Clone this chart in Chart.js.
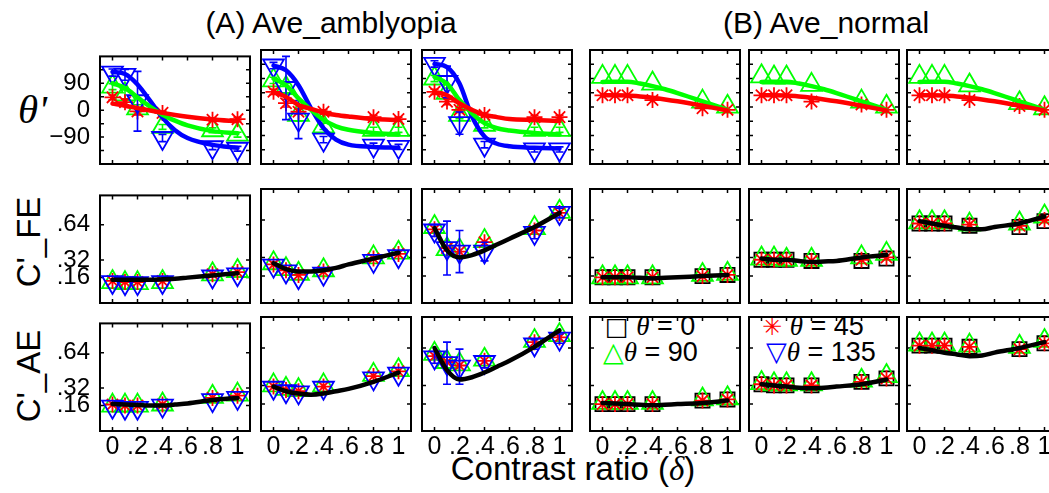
<!DOCTYPE html>
<html>
<head>
<meta charset="utf-8">
<script src="https://cdn.jsdelivr.net/npm/chart.js@4"></script>
<style>
body{margin:0;background:#fff;width:1049px;height:493px;overflow:hidden;position:relative;font-family:"Liberation Sans",Arial,sans-serif}
canvas{position:absolute}
.lbl{position:absolute;white-space:nowrap;color:#000;line-height:1}
.th{font-family:"Liberation Serif",serif;font-style:italic}
</style>
</head>
<body>

<div class="lbl" style="left:331px;top:8px;font-size:30px;transform:translateX(-50%)">(A) Ave_amblyopia</div>
<div class="lbl" style="left:826px;top:8px;font-size:30px;transform:translateX(-50%)">(B) Ave_normal</div>
<div class="lbl" style="left:573px;top:452px;font-size:33px;transform:translateX(-50%)">Contrast ratio (<span class="th">δ</span>)</div>
<div class="lbl th" style="left:18px;top:89px;font-size:41px">θ'</div>
<div class="lbl" style="left:28px;top:242px;font-size:33px;transform:translate(-50%,-50%) rotate(-90deg)">C'_FE</div>
<div class="lbl" style="left:28px;top:376px;font-size:33px;transform:translate(-50%,-50%) rotate(-90deg)">C'_AE</div>

<div class="lbl" style="left:605px;top:313px;font-size:27px"><span style="font-family:'DejaVu Sans';font-size:25px">□</span> <span class="th">θ</span> = 0</div>
<div class="lbl" style="left:603px;top:338px;font-size:27px"><span style="font-family:'DejaVu Sans';font-size:27px;color:#00ff00">△</span><span class="th">θ</span> = 90</div>
<div class="lbl" style="left:762px;top:313px;font-size:27px"><span style="font-family:'DejaVu Sans';font-size:24px;color:#ff0000">✳</span> <span class="th">θ</span> = 45</div>
<div class="lbl" style="left:766px;top:338px;font-size:27px"><span style="font-family:'DejaVu Sans';font-size:27px;color:#0000ff">▽</span><span class="th">θ</span> = 135</div>

<script>
// contrast ratios of the measured points, and where the fitted curves are read
const xData = [0, 0.1, 0.2, 0.4, 0.8, 1];
const xFit = [0, 0.1, 0.2, 0.3, 0.4, 0.5, 0.6, 0.8, 1];
const xTicks = [0, 0.2, 0.4, 0.6, 0.8, 1];
const xTickLabels = ['0', '.2', '.4', '.6', '.8', '1'];
const thetaTicks = [-135, -90, -45, 0, 45, 90, 135];
const thetaTickLabels = ['', '\u221290', '', '0', '', '90', ''];
const cTicks = [0.16, 0.32, 0.64];
const cTickLabels = ['.16', '.32', '.64'];

// theta' (A)
const a1T45 = [43, 27, -4, -9, -32, -30];
const a1T90 = [79, 53, 6, -56, -67, -82];
const a1T135 = [126, 118, 30, -93, -124, -129];
const a1T45Err = [8, 10, 12, 6, 6, 6];
const a1T90Err = [10, 15, 12, 8, 8, 8];
const a1T135Err = [12, 18, 100, 12, 8, 8];
const a1T45Fit = [22, 15, 7, -1, -9, -16, -22, -31, -37];
const a1T90Fit = [90, 74, 43, 12, -15, -35, -51, -70, -77];
const a1T135Fit = [128, 121, 86, 32, -25, -67, -93, -116, -126];

const a2T45 = [48, 12, -15, -15, -32, -38];
const a2T90 = [84, 60, -25, -61, -72, -72];
const a2T135 = [131, 60, -40, -103, -122, -126];
const a2T45Err = [8, 12, 8, 6, 6, 6];
const a2T90Err = [10, 15, 20, 10, 8, 8];
const a2T135Err = [10, 100, 60, 10, 8, 8];
const a2T45Fit = [48, 32, 6, -6, -18, -25, -30, -38, -41];
const a2T90Fit = [90, 69, 27, -9, -41, -61, -72, -82, -87];
const a2T135Fit = [131, 116, 69, -4, -67, -103, -119, -126, -129];

const a3T45 = [48, 17, -9, -25, -32, -32];
const a3T90 = [90, 45, -25, -56, -72, -72];
const a3T135 = [136, 79, -51, -119, -134, -134];
const a3T45Err = [8, 10, 8, 6, 6, 6];
const a3T90Err = [10, 15, 12, 10, 8, 8];
const a3T135Err = [10, 50, 35, 10, 8, 8];
const a3T45Fit = [48, 37, 11, -9, -25, -32, -38, -41, -44];
const a3T90Fit = [95, 74, 22, -20, -51, -67, -74, -82, -87];
const a3T135Fit = [136, 126, 74, -30, -93, -116, -124, -129, -131];

// theta' (B)
const b1T45 = [37, 37, 37, 22, -4, -9];
const b1T90 = [95, 95, 95, 74, 17, 1];
const b1T45Fit = [37, 37, 36, 33, 29, 24, 18, 4, -11];
const b1T90Fit = [79, 80, 80, 74, 66, 56, 44, 18, -9];
const b2T45 = [37, 37, 37, 17, 8, -9];
const b2T90 = [97, 93, 93, 70, 17, 1];
const b2T45Fit = [37, 37, 36, 33, 29, 24, 18, 4, -11];
const b2T90Fit = [79, 80, 80, 74, 66, 56, 44, 18, -9];
const b3T45 = [37, 37, 37, 22, 3, -9];
const b3T90 = [95, 95, 95, 68, 12, -4];
const b3T45Fit = [37, 37, 36, 33, 29, 24, 18, 4, -11];
const b3T90Fit = [79, 80, 80, 74, 66, 56, 44, 18, -9];

// C'_FE
const a1Fe45 = [0.13, 0.12, 0.12, 0.13, 0.19, 0.21];
const a1Fe90 = [0.12, 0.11, 0.11, 0.12, 0.19, 0.22];
const a1Fe135 = [0.12, 0.11, 0.11, 0.12, 0.17, 0.19];
const a1FeFit = [0.14, 0.14, 0.14, 0.14, 0.145, 0.15, 0.16, 0.18, 0.20];
const a2Fe45 = [0.26, 0.21, 0.17, 0.20, 0.31, 0.35];
const a2Fe90 = [0.27, 0.22, 0.18, 0.21, 0.32, 0.36];
const a2Fe135 = [0.25, 0.20, 0.15, 0.18, 0.29, 0.33];
const a2FeFit = [0.27, 0.22, 0.20, 0.20, 0.21, 0.23, 0.26, 0.31, 0.36];
const a3Fe45 = [0.56, 0.40, 0.37, 0.45, 0.55, 0.70];
const a3Fe90 = [0.58, 0.39, 0.38, 0.46, 0.57, 0.71];
const a3Fe135 = [0.55, 0.40, 0.37, 0.37, 0.53, 0.70];
const a3Fe135Err = [0.05, 0.23, 0.18, 0.08, 0.05, 0.04];
const a3FeFit = [0.57, 0.38, 0.32, 0.34, 0.38, 0.43, 0.48, 0.58, 0.70];
const b1Fe0 = [0.15, 0.15, 0.15, 0.15, 0.16, 0.17];
const b1Fe45 = [0.15, 0.15, 0.15, 0.15, 0.16, 0.17];
const b1Fe90 = [0.15, 0.15, 0.15, 0.15, 0.17, 0.18];
const b1FeFit = [0.15, 0.15, 0.15, 0.145, 0.14, 0.145, 0.15, 0.16, 0.17];
const b2Fe0 = [0.30, 0.30, 0.30, 0.29, 0.29, 0.31];
const b2Fe45 = [0.30, 0.30, 0.30, 0.29, 0.30, 0.32];
const b2Fe90 = [0.31, 0.31, 0.30, 0.30, 0.32, 0.35];
const b2FeFit = [0.31, 0.30, 0.30, 0.29, 0.28, 0.285, 0.29, 0.32, 0.34];
const b3Fe0 = [0.61, 0.61, 0.61, 0.59, 0.58, 0.63];
const b3Fe45 = [0.61, 0.61, 0.61, 0.60, 0.59, 0.64];
const b3Fe90 = [0.62, 0.62, 0.62, 0.60, 0.61, 0.67];
const b3FeFit = [0.63, 0.61, 0.59, 0.575, 0.56, 0.56, 0.58, 0.61, 0.67];

// C'_AE
const a1Ae45 = [0.17, 0.16, 0.16, 0.17, 0.23, 0.25];
const a1Ae90 = [0.16, 0.16, 0.16, 0.17, 0.24, 0.26];
const a1Ae135 = [0.15, 0.14, 0.14, 0.16, 0.21, 0.23];
const a1AeFit = [0.175, 0.17, 0.165, 0.16, 0.16, 0.17, 0.18, 0.21, 0.23];
const a2Ae45 = [0.31, 0.28, 0.27, 0.31, 0.40, 0.44];
const a2Ae90 = [0.32, 0.29, 0.28, 0.32, 0.41, 0.45];
const a2Ae135 = [0.30, 0.27, 0.26, 0.30, 0.38, 0.42];
const a2AeFit = [0.31, 0.27, 0.25, 0.24, 0.25, 0.27, 0.29, 0.35, 0.43];
const a3Ae45 = [0.57, 0.52, 0.49, 0.53, 0.69, 0.73];
const a3Ae90 = [0.59, 0.52, 0.50, 0.54, 0.70, 0.75];
const a3Ae135 = [0.56, 0.51, 0.48, 0.52, 0.67, 0.72];
const a3Ae135Err = [0.05, 0.18, 0.15, 0.05, 0.04, 0.04];
const a3AeFit = [0.64, 0.45, 0.37, 0.39, 0.43, 0.48, 0.53, 0.65, 0.79];
const b1Ae0 = [0.16, 0.16, 0.16, 0.16, 0.19, 0.20];
const b1Ae45 = [0.16, 0.16, 0.16, 0.16, 0.19, 0.20];
const b1Ae90 = [0.17, 0.17, 0.17, 0.17, 0.20, 0.21];
const b1AeFit = [0.17, 0.165, 0.16, 0.155, 0.15, 0.155, 0.16, 0.17, 0.19];
const b2Ae0 = [0.33, 0.32, 0.32, 0.32, 0.35, 0.38];
const b2Ae45 = [0.33, 0.32, 0.32, 0.32, 0.35, 0.38];
const b2Ae90 = [0.34, 0.33, 0.33, 0.33, 0.36, 0.40];
const b2AeFit = [0.33, 0.32, 0.31, 0.30, 0.295, 0.30, 0.31, 0.33, 0.37];
const b3Ae0 = [0.66, 0.66, 0.66, 0.65, 0.63, 0.68];
const b3Ae45 = [0.66, 0.66, 0.66, 0.65, 0.63, 0.68];
const b3Ae90 = [0.67, 0.67, 0.67, 0.66, 0.65, 0.70];
const b3AeFit = [0.64, 0.62, 0.60, 0.585, 0.57, 0.575, 0.60, 0.64, 0.69];

const RED = '#ff0000', GREEN = '#00ff00', BLUE = '#0000ff', BLACK = '#000000';
const FONT = '"Liberation Sans", Arial, sans-serif';

// panel boxes (px)
const colLeft = [100, 261, 422, 590, 749, 907];
const rowTop = [50, 189, 317];
const PW = 150, PH = 114;
const L = 70, R = 18, T = 18, B = 40;

const sq = (d, e) => ({d: d, c: BLACK, s: 'rect', r: 10, e: e});
const st = (d, e) => ({d: d, c: RED, s: 'star', r: 8, e: e});
const up = (d, e) => ({d: d, c: GREEN, s: 'triangle', r: 12, e: e});
const dn = (d, e) => ({d: d, c: BLUE, s: 'triangle', r: 12, rot: 180, e: e});

const panels = [
  {row: 0, col: 0, fits: [[a1T45Fit, RED], [a1T90Fit, GREEN], [a1T135Fit, BLUE]],
    pts: [dn(a1T135, a1T135Err), st(a1T45, a1T45Err), up(a1T90, a1T90Err)]},
  {row: 0, col: 1, fits: [[a2T45Fit, RED], [a2T90Fit, GREEN], [a2T135Fit, BLUE]],
    pts: [dn(a2T135, a2T135Err), st(a2T45, a2T45Err), up(a2T90, a2T90Err)]},
  {row: 0, col: 2, fits: [[a3T45Fit, RED], [a3T90Fit, GREEN], [a3T135Fit, BLUE]],
    pts: [dn(a3T135, a3T135Err), st(a3T45, a3T45Err), up(a3T90, a3T90Err)]},
  {row: 0, col: 3, fits: [[b1T45Fit, RED], [b1T90Fit, GREEN]], pts: [st(b1T45), up(b1T90)]},
  {row: 0, col: 4, fits: [[b2T45Fit, RED], [b2T90Fit, GREEN]], pts: [st(b2T45), up(b2T90)]},
  {row: 0, col: 5, fits: [[b3T45Fit, RED], [b3T90Fit, GREEN]], pts: [st(b3T45), up(b3T90)]},

  {row: 1, col: 0, fits: [[a1FeFit, BLACK]], pts: [dn(a1Fe135), st(a1Fe45), up(a1Fe90)]},
  {row: 1, col: 1, fits: [[a2FeFit, BLACK]], pts: [dn(a2Fe135), st(a2Fe45), up(a2Fe90)]},
  {row: 1, col: 2, fits: [[a3FeFit, BLACK]], pts: [dn(a3Fe135, a3Fe135Err), st(a3Fe45), up(a3Fe90)]},
  {row: 1, col: 3, fits: [[b1FeFit, BLACK]], pts: [st(b1Fe45), up(b1Fe90), sq(b1Fe0)]},
  {row: 1, col: 4, fits: [[b2FeFit, BLACK]], pts: [st(b2Fe45), up(b2Fe90), sq(b2Fe0)]},
  {row: 1, col: 5, fits: [[b3FeFit, BLACK]], pts: [st(b3Fe45), up(b3Fe90), sq(b3Fe0)]},

  {row: 2, col: 0, fits: [[a1AeFit, BLACK]], pts: [dn(a1Ae135), st(a1Ae45), up(a1Ae90)]},
  {row: 2, col: 1, fits: [[a2AeFit, BLACK]], pts: [dn(a2Ae135), st(a2Ae45), up(a2Ae90)]},
  {row: 2, col: 2, fits: [[a3AeFit, BLACK]], pts: [dn(a3Ae135, a3Ae135Err), st(a3Ae45), up(a3Ae90)]},
  {row: 2, col: 3, fits: [[b1AeFit, BLACK]], pts: [st(b1Ae45), up(b1Ae90), sq(b1Ae0)]},
  {row: 2, col: 4, fits: [[b2AeFit, BLACK]], pts: [st(b2Ae45), up(b2Ae90), sq(b2Ae0)]},
  {row: 2, col: 5, fits: [[b3AeFit, BLACK]], pts: [st(b3Ae45), up(b3Ae90), sq(b3Ae0)]}
];

// matlab style box with inward ticks on all sides
const boxPlugin = {
  id: 'box',
  beforeDatasetsDraw(chart) {
    const {ctx, chartArea: a, scales} = chart;
    ctx.save();
    ctx.strokeStyle = '#000';
    ctx.lineWidth = 2;
    ctx.strokeRect(a.left, a.top, a.right - a.left, a.bottom - a.top);
    ctx.lineWidth = 1.5;
    ctx.beginPath();
    scales.x.ticks.forEach(t => {
      const px = scales.x.getPixelForValue(t.value);
      ctx.moveTo(px, a.bottom); ctx.lineTo(px, a.bottom - 4);
      ctx.moveTo(px, a.top); ctx.lineTo(px, a.top + 4);
    });
    scales.y.ticks.forEach(t => {
      const py = scales.y.getPixelForValue(t.value);
      ctx.moveTo(a.left, py); ctx.lineTo(a.left + 4, py);
      ctx.moveTo(a.right, py); ctx.lineTo(a.right - 4, py);
    });
    ctx.stroke();
    ctx.restore();
  }
};

// vertical error bars with caps, drawn just under their own markers
const errPlugin = {
  id: 'errbars',
  beforeDatasetDraw(chart, args) {
    const ds = chart.data.datasets[args.index];
    if (!ds.errors) return;
    const {ctx, scales: {x, y}} = chart;
    ctx.save();
    ctx.strokeStyle = ds.borderColor;
    ctx.lineWidth = 1.6;
    ctx.beginPath();
    ds.data.forEach((p, i) => {
      const e = ds.errors[i];
      if (!e) return;
      const px = x.getPixelForValue(p.x);
      const y1 = y.getPixelForValue(p.y - e), y2 = y.getPixelForValue(p.y + e);
      ctx.moveTo(px, y1); ctx.lineTo(px, y2);
      ctx.moveTo(px - 4, y1); ctx.lineTo(px + 4, y1);
      ctx.moveTo(px - 4, y2); ctx.lineTo(px + 4, y2);
    });
    ctx.stroke();
    ctx.restore();
  }
};

panels.forEach(p => {
  const cv = document.createElement('canvas');
  cv.width = PW + L + R;
  cv.height = PH + T + B;
  cv.style.left = (colLeft[p.col] - L) + 'px';
  cv.style.top = (rowTop[p.row] - T) + 'px';
  document.body.appendChild(cv);

  const isTheta = p.row === 0;
  const yTicks = isTheta ? thetaTicks : cTicks;
  const yLabels = isTheta ? thetaTickLabels : cTickLabels;

  const datasets = [];
  p.fits.forEach(f => datasets.push({
    data: xFit.map((x, i) => ({x: x, y: f[0][i]})),
    showLine: true, borderColor: f[1], borderWidth: 4.5, pointRadius: 0,
    cubicInterpolationMode: 'monotone', borderCapStyle: 'round', clip: false
  }));
  p.pts.forEach(s => datasets.push({
    data: xData.map((x, i) => ({x: x, y: s.d[i]})),
    showLine: false, pointStyle: s.s, pointRadius: s.r, pointRotation: s.rot || 0,
    borderColor: s.c, pointBorderColor: s.c, backgroundColor: 'rgba(0,0,0,0)',
    pointBorderWidth: 1.8, errors: s.e, clip: false
  }));

  new Chart(cv, {
    type: 'scatter',
    data: {datasets: datasets},
    plugins: [boxPlugin, errPlugin],
    options: {
      responsive: false, animation: false, devicePixelRatio: 1,
      layout: {padding: {top: T, right: R, left: 0, bottom: 0}},
      plugins: {legend: {display: false}, tooltip: {enabled: false}},
      scales: {
        x: {
          type: 'linear', min: -0.1, max: 1.1,
          afterBuildTicks: s => { s.ticks = xTicks.map(v => ({value: v})); },
          afterFit: s => { s.height = B; },
          grid: {display: false, drawTicks: false}, border: {display: false},
          ticks: {
            display: p.row === 2, autoSkip: false, maxRotation: 0, padding: 1,
            color: '#000', font: {family: FONT, size: 25},
            callback: (v, i) => xTickLabels[i]
          }
        },
        y: {
          type: 'linear', min: isTheta ? -180 : -0.07, max: isTheta ? 180 : 0.905,
          afterBuildTicks: s => { s.ticks = yTicks.map(v => ({value: v})); },
          afterFit: s => { s.width = L; },
          grid: {display: false, drawTicks: false}, border: {display: false},
          ticks: {
            display: p.col === 0, autoSkip: false, padding: 10,
            color: '#000', font: {family: FONT, size: 24},
            callback: (v, i) => yLabels[i]
          }
        }
      }
    }
  });
});
</script>
</body>
</html>
